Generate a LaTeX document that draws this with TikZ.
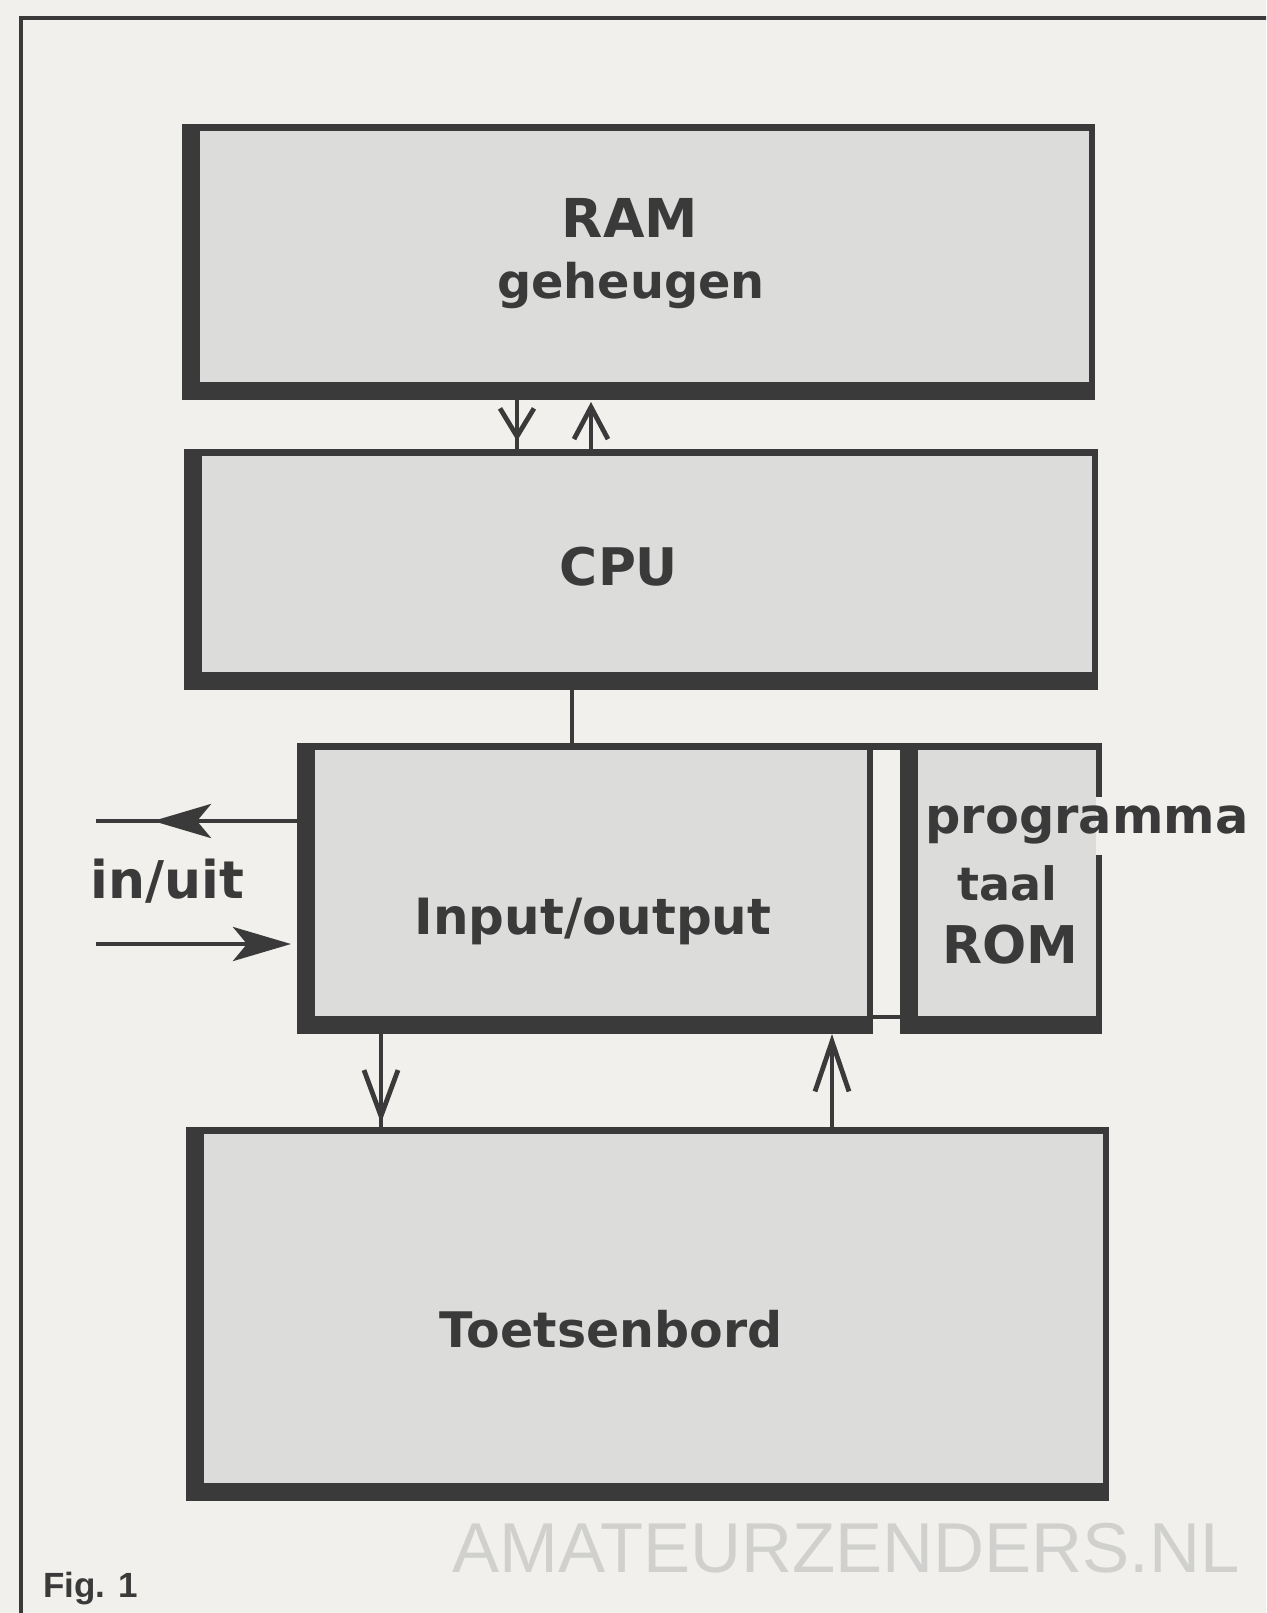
\documentclass[tikz,border=0pt]{standalone}
\usepackage{fontspec}
\setmainfont{DejaVu Sans}
\newfontfamily\figfont{Liberation Sans}
\usetikzlibrary{arrows.meta,fit}
\definecolor{bg}{HTML}{F1F0EC}
\definecolor{boxfill}{HTML}{DCDCDA}
\definecolor{ink}{HTML}{3A3A3A}
\definecolor{wm}{HTML}{D0D0CE}
\begin{document}
\begin{tikzpicture}[x=0.5pt,y=-0.5pt,
  blk/.style={fill=ink, draw=none, inner sep=0pt, outer sep=0pt,
    path picture={\fill[boxfill]
      ([xshift=9pt,yshift=-3.25pt]path picture bounding box.north west) rectangle
      ([xshift=-3.25pt,yshift=9pt]path picture bounding box.south east);}},
  lbl/.style={text=ink, inner sep=0pt, anchor=base},
  conn/.style={draw=ink, line width=2.4pt},
  barbtip/.style={-{Straight Barb[length=#1, width=17pt]}},
  filltip/.style={-{Stealth[length=29pt, width=17pt, inset=7pt]}}
]
\fill[bg] (0,0) rectangle (1266,1613);
\useasboundingbox (0,0) rectangle (1266,1613);
\clip (0,0) rectangle (1266,1613);

% frame
\draw[ink, line width=1.6pt] (21,1620) -- (21,18) -- (1270,18);

% boxes
\node[blk, fit={(182,124) (1095,400)}] (ram) {};
\node[blk, fit={(184,449) (1098,690)}] (cpu) {};
\node[blk, fit={(297,743) (873,1034)}] (io) {};
\node[blk, fit={(900,743) (1102,1034)}] (rom) {};
\node[blk, fit={(186,1127) (1109,1501)}] (kbd) {};

% joins between I/O and ROM
\fill[ink] (io.north east) rectangle ([yshift=-3.25pt]rom.north west);
\draw[conn] ([yshift=8.5pt]io.south east) -- ([yshift=8.5pt]rom.south west);
% gap in ROM right edge
\coordinate (gapT) at (0,797);
\coordinate (gapB) at (0,855);
\fill[bg] ([xshift=-3.25pt]rom.east |- gapT) rectangle ([xshift=0.5pt]rom.east |- gapB);

% connector x positions
\coordinate (xa) at (517,0);
\coordinate (xb) at (591,0);
\coordinate (xc) at (572,0);
\coordinate (xd) at (381,0);
\coordinate (xe) at (832,0);

% RAM <-> CPU
\draw[conn] (ram.south -| xa) -- (cpu.north -| xa);
\draw[conn, barbtip=14pt, shorten >=4pt] (ram.south -| xa) -- (cpu.north -| xa);
\draw[conn, barbtip=16pt, shorten >=1pt] (cpu.north -| xb) -- (ram.south -| xb);

% CPU - I/O
\draw[conn] (cpu.south -| xc) -- (io.north -| xc);

% I/O <-> keyboard
\draw[conn] (io.south -| xd) -- (kbd.north -| xd);
\draw[conn, barbtip=23pt, shorten >=2pt] (io.south -| xd) -- (kbd.north -| xd);
\draw[conn, barbtip=25pt] (kbd.north -| xe) -- (io.south -| xe);

% in/uit
\coordinate (outA) at (96,821);
\coordinate (tipA) at (153,821);
\coordinate (inB) at (96,944);
\draw[conn] (io.west |- outA) -- (outA);
\draw[conn, filltip] (io.west |- outA) -- (tipA);
\draw[conn, filltip, shorten >=3pt] (inB) -- (io.west |- inB);

% texts
\node[lbl, font=\fontsize{26.8pt}{32pt}\selectfont\bfseries] (tram) at (630,237) {RAM};
\node[lbl, font=\fontsize{23.9pt}{29pt}\selectfont\bfseries] (tgeh) at (631,298) {geheugen};
\node[lbl, font=\fontsize{25.9pt}{31pt}\selectfont\bfseries] (tcpu) at (619,585) {CPU};
\node[lbl, font=\fontsize{25pt}{30pt}\selectfont\bfseries] (tio) at (593,934) {Input/output};
\node[lbl, anchor=base west, font=\fontsize{26pt}{31pt}\selectfont\bfseries] (tinuit) at (90,898) {in/uit};
\node[lbl, anchor=base west, font=\fontsize{24.7pt}{30pt}\selectfont\bfseries] (tprog) at (925,833) {programma};
\node[lbl, font=\fontsize{23pt}{28pt}\selectfont\bfseries] (ttaal) at (1007,900) {taal};
\node[lbl, font=\fontsize{26pt}{31pt}\selectfont\bfseries] (trom) at (1010,963) {ROM};
\node[lbl, font=\fontsize{24.5pt}{29pt}\selectfont\bfseries] (tkbd) at (611,1347) {Toetsenbord};
\node[lbl, anchor=base west, font=\figfont\fontsize{17.5pt}{21pt}\selectfont\bfseries] (tfig) at (43,1597) {Fig. 1};
\node[lbl, anchor=base west, text=wm, font=\figfont\fontsize{35.3pt}{42pt}\selectfont] (twm) at (452,1572) {AMATEURZENDERS.NL};
\end{tikzpicture}
\end{document}
